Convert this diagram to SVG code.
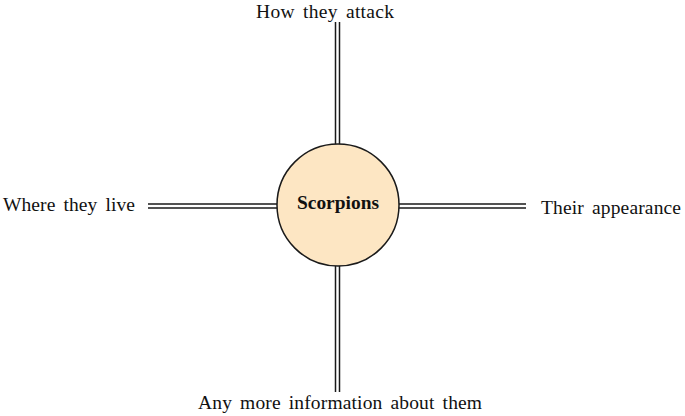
<svg xmlns="http://www.w3.org/2000/svg" width="685" height="416" viewBox="0 0 685 416">
<style>
.lbl{font-family:"Liberation Serif","Times New Roman",serif;font-size:19.5px;fill:#111;word-spacing:3px}
.ctr{font-family:"Liberation Serif","Times New Roman",serif;font-size:19px;font-weight:bold;fill:#111}
.ln{stroke:#1a1a1a;stroke-width:1.5;fill:none}
</style>
<rect width="685" height="416" fill="#ffffff"/>
<g id="connectors">
<path class="ln" d="M335.5 22V144M339.5 22V144"/>
<path class="ln" d="M335.5 266V392M339.5 266V392"/>
<path class="ln" d="M148 204H277M148 208H277"/>
<path class="ln" d="M399 204H526M399 208H526"/>
</g>
<g id="center">
<circle cx="338" cy="205" r="61" fill="#fde6c3" stroke="#1a1a1a" stroke-width="1.5"/>
<text class="ctr" x="338" y="209" text-anchor="middle" textLength="82" lengthAdjust="spacingAndGlyphs">Scorpions</text>
</g>
<g id="top"><text class="lbl" x="256" y="18" textLength="138" lengthAdjust="spacing">How they attack</text></g>
<g id="left"><text class="lbl" x="3" y="211" textLength="132" lengthAdjust="spacing">Where they live</text></g>
<g id="right"><text class="lbl" x="541" y="214" textLength="140" lengthAdjust="spacing">Their appearance</text></g>
<g id="bottom"><text class="lbl" x="198" y="409" textLength="284" lengthAdjust="spacing">Any more information about them</text></g>
</svg>
